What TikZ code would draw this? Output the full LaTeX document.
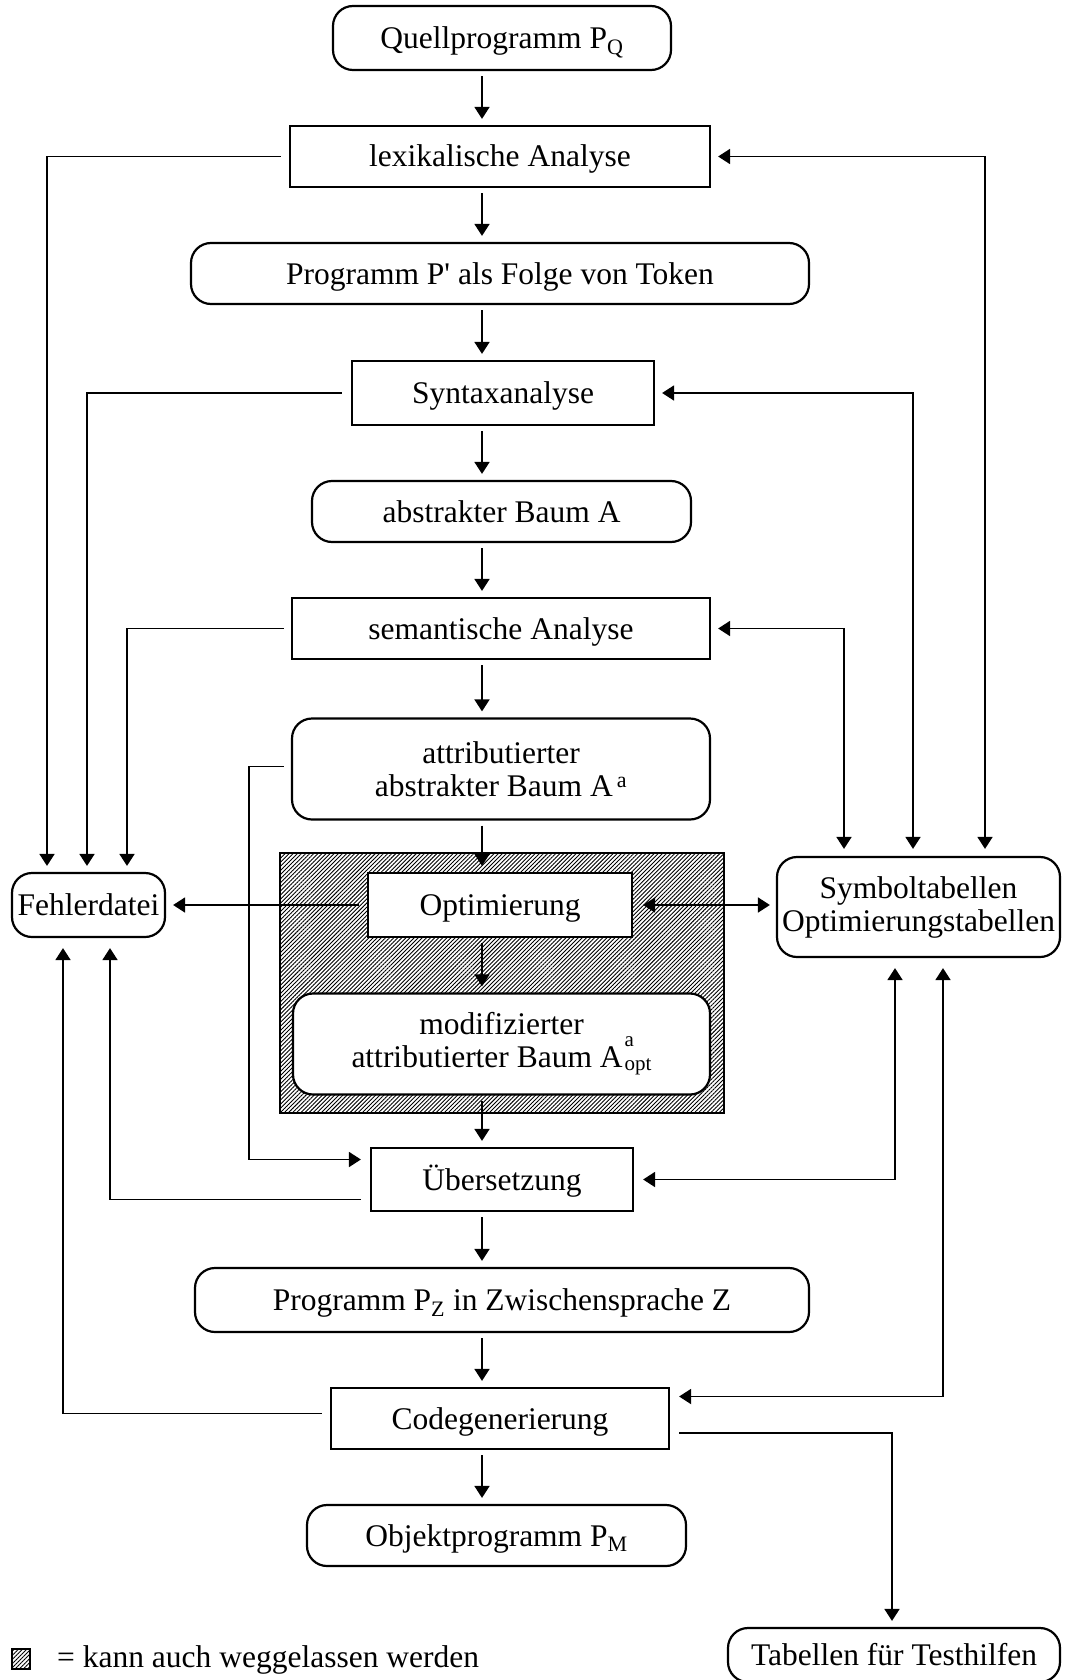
\documentclass[tikz,border=0pt]{standalone}
\usepackage{fontspec}
\setmainfont{Liberation Serif}
\usetikzlibrary{arrows.meta,patterns.meta}
\newcommand\chartfont{\fontsize{31.5}{33}\selectfont}
\newcommand\idxfont{\fontsize{21}{21}\selectfont}
\begin{document}
\begin{tikzpicture}[x=1pt,y=-1pt,
  box/.style={draw, line width=2.2pt, fill=white, inner sep=2pt, align=center, font=\chartfont},
  rbox/.style={box, rounded corners=20pt},
  oneline/.style={text height=21pt, text depth=0pt},
  hatchfill/.style={pattern={Lines[angle=45,distance=2.9pt,line width=0.9pt]}},
  tip/.tip={Triangle[length=12pt,width=15pt]},
  flow/.style={line width=1.8pt, -tip},
  both/.style={line width=1.8pt, tip-tip},
]
\useasboundingbox (0,0) rectangle (1065,1680);

% optional stage (hatched frame), drawn first so the boxes sit on top
\node[draw, line width=2.2pt, hatchfill, minimum width=444pt, minimum height=260pt] (grp) at (502,983) {};

% main column
\node[rbox, oneline, minimum width=338pt, minimum height=64pt] (quell) at (502,38) {Quellprogramm P\textsubscript{Q}};
\node[box,  oneline, minimum width=420pt, minimum height=61pt] (lex)   at (500,156.5) {lexikalische Analyse};
\node[rbox, oneline, minimum width=618pt, minimum height=61pt] (prog)  at (500,273.5) {Programm P\textquotesingle{} als Folge von Token};
\node[box,  oneline, minimum width=302pt, minimum height=64pt] (syn)   at (503,393) {Syntaxanalyse};
\node[rbox, oneline, minimum width=379pt, minimum height=61pt] (abs)   at (501.5,511.5) {abstrakter Baum A};
\node[box,  oneline, minimum width=418pt, minimum height=61pt] (sem)   at (501,628.5) {semantische Analyse};
\node[rbox, minimum width=418pt, minimum height=101pt] (attr) at (501,769) {attributierter\\abstrakter Baum A\kern4pt\textsuperscript{a}};
\node[box,  oneline, minimum width=264pt, minimum height=64pt] (opt)   at (500,905) {Optimierung};
\node[rbox, minimum width=417pt, minimum height=101pt] (mod)  at (501.5,1044) {modifizierter\\attributierter Baum A\kern2pt\rlap{\raisebox{21pt}{\idxfont a}}\raisebox{-3pt}{\idxfont opt}};
\node[box,  oneline, minimum width=262pt, minimum height=63pt] (ueb)   at (502,1179.5) {Übersetzung};
\node[rbox, oneline, minimum width=614pt, minimum height=64pt] (pz)    at (502,1300) {Programm P\textsubscript{Z} in Zwischensprache Z};
\node[box,  oneline, minimum width=338pt, minimum height=61pt] (code)  at (500,1418.5) {Codegenerierung};
\node[rbox, oneline, minimum width=379pt, minimum height=61pt] (obj)   at (496.5,1535.5) {Objektprogramm P\textsubscript{M}};

% side stores
\node[rbox, oneline, minimum width=153pt, minimum height=64pt] (fehl) at (88.5,905) {Fehlerdatei};
\node[rbox, minimum width=283pt, minimum height=100pt] (sym) at (918.5,907) {Symboltabellen\\Optimierungstabellen};
\node[rbox, oneline, minimum width=332pt, minimum height=54pt] (tab) at (894,1655) {Tabellen für Testhilfen};

% legend
\node[draw, line width=1.5pt, hatchfill, minimum width=18pt, minimum height=20pt, inner sep=0pt] (legsq) at (21,1659) {};
\node[anchor=base west, font=\chartfont, inner sep=0pt] (legtxt) at (57,1667) {= kann auch weggelassen werden};

% column positions of the connectors
\coordinate (mx) at (482,0);
\coordinate (fx1) at (47,0);
\coordinate (fx2) at (87,0);
\coordinate (fx3) at (127,0);
\coordinate (fx4) at (63,0);
\coordinate (fx5) at (110,0);
\coordinate (ax) at (249,0);
\coordinate (rx1) at (844,0);
\coordinate (rx2) at (913,0);
\coordinate (rx3) at (985,0);
\coordinate (rx4) at (895,0);
\coordinate (rx5) at (943,0);
\coordinate (rx6) at (892,0);

% main flow
\foreach \a/\b in {quell/lex, lex/prog, prog/syn, syn/abs, abs/sem, sem/attr,
                   attr/opt, opt/mod, mod/ueb, ueb/pz, pz/code, code/obj}
  \draw[flow, shorten <=5pt, shorten >=6pt] (\a.south -| mx) -- (\b.north -| mx);

% error reports
\draw[flow, shorten <=8pt, shorten >=6pt] (lex.west) -| (fehl.north -| fx1);
\draw[flow, shorten <=9pt, shorten >=6pt] (syn.west) -| (fehl.north -| fx2);
\draw[flow, shorten <=7pt, shorten >=6pt] (sem.west) -| (fehl.north -| fx3);
\draw[flow, shorten <=8pt, shorten >=7pt] (opt.west) -- (fehl.east);
\draw[flow, shorten <=9pt, shorten >=10pt] ([yshift=-20pt]ueb.west) -| (fehl.south -| fx5);
\draw[flow, shorten <=8pt, shorten >=10pt] ([yshift=5pt]code.west) -| (fehl.south -| fx4);

% bypass of the optimisation stage
\draw[flow, shorten <=7pt, shorten >=9pt] ([yshift=2.5pt]attr.west) -- ([yshift=2.5pt]attr.west -| ax) |- ([yshift=20pt]ueb.west);

% table access
\draw[both, shorten <=7pt, shorten >=7pt] (lex.east) -| (sym.north -| rx3);
\draw[both, shorten <=7pt, shorten >=7pt] (syn.east) -| (sym.north -| rx2);
\draw[both, shorten <=7pt, shorten >=7pt] (sem.east) -| (sym.north -| rx1);
\draw[both, shorten <=10pt, shorten >=6pt] (opt.east) -- (opt.east -| sym.west);
\draw[both, shorten <=9pt, shorten >=10pt] (ueb.east) -| (sym.south -| rx4);
\draw[both, shorten <=9pt, shorten >=10pt] ([yshift=22pt]code.east) -| (sym.south -| rx5);
\draw[flow, shorten <=9pt, shorten >=6pt] ([yshift=-14.5pt]code.east) -| (tab.north -| rx6);
\end{tikzpicture}
\end{document}
